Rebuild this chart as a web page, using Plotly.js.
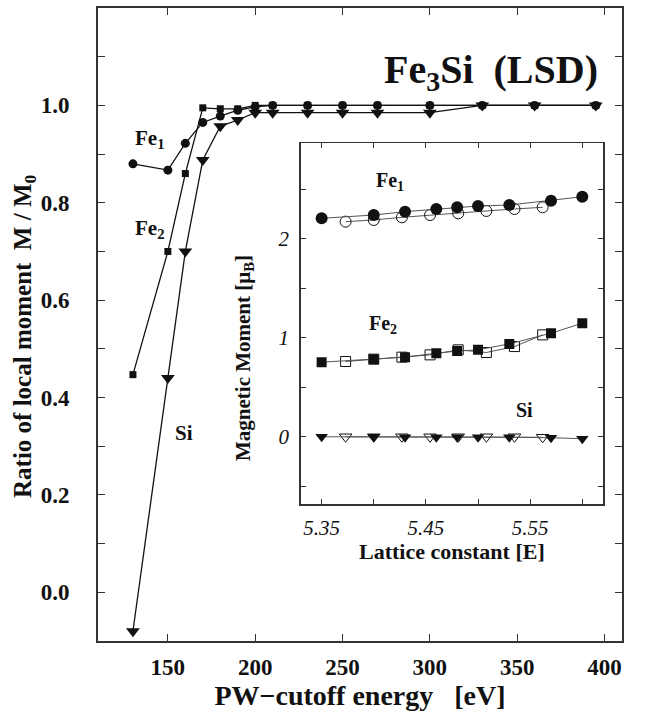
<!DOCTYPE html>
<html>
<head>
<meta charset="utf-8">
<script src="https://cdn.plot.ly/plotly-3.0.1.min.js"></script>
<style>html,body{margin:0;padding:0;background:#fff;}#chart{width:646px;height:717px;}</style>
</head>
<body>
<div id="chart"></div>
<script>
// Main plot: ratio of local moment vs PW cutoff energy
var cutoff = [130, 150, 160, 170, 180, 190, 200, 210, 230, 250, 270, 300, 330, 360, 395];
var ratioFe1 = [0.88, 0.867, 0.922, 0.965, 0.978, 0.99, 0.997, 1.0, 1.0, 1.0, 1.0, 1.0, 1.0, 1.0, 1.0];
var ratioFe2 = [0.447, 0.70, 0.86, 0.995, 0.993, 0.993, 1.0, 1.0, 1.0, 1.0, 1.0, 1.0, 1.0, 1.0, 1.0];
var ratioSi = [-0.08, 0.44, 0.70, 0.888, 0.957, 0.97, 0.985, 0.985, 0.985, 0.985, 0.985, 0.985, 1.0, 1.0, 1.0];

// Inset: magnetic moment vs lattice constant
var latFilled = [5.35, 5.40, 5.43, 5.46, 5.48, 5.50, 5.53, 5.57, 5.60];
var latOpen = [5.373, 5.400, 5.427, 5.454, 5.481, 5.508, 5.535, 5.562];
var momFe1Filled = [2.209, 2.242, 2.276, 2.303, 2.320, 2.333, 2.343, 2.387, 2.427];
var momFe1Open = [2.175, 2.192, 2.219, 2.242, 2.259, 2.283, 2.303, 2.320];
var momFe2Filled = [0.754, 0.785, 0.805, 0.845, 0.866, 0.879, 0.939, 1.047, 1.148];
var momFe2Open = [0.761, 0.785, 0.805, 0.828, 0.879, 0.852, 0.912, 1.03];
var momSiFilled = [0.0, 0.0, -0.005, -0.005, -0.005, -0.005, -0.005, -0.01, -0.02];
var momSiOpen = [0.0, 0.0, 0.0, 0.0, 0.0, 0.0, 0.0, -0.005];

// Tick labels
var latTickVals = [5.35, 5.45, 5.55];
var latTickText = ['5.35', '5.45', '5.55'];
var momTickVals = [0, 1, 2];
var momTickText = ['0', '1', '2'];

var SERIF = '"Liberation Serif", "DejaVu Serif", serif';
var INK = '#111';
var AX = '#333';

function mainTrace(y, sym, size) {
  return {x: cutoff, y: y, xaxis: 'x', yaxis: 'y', mode: 'lines+markers', type: 'scatter',
    line: {color: INK, width: 1.3},
    marker: {symbol: sym, size: size, color: INK}, showlegend: false, hoverinfo: 'skip'};
}
function insetTrace(x, y, sym, size, open) {
  return {x: x, y: y, xaxis: 'x2', yaxis: 'y2', mode: 'lines+markers', type: 'scatter',
    line: {color: '#555', width: 1},
    marker: {symbol: open ? sym + '-open' : sym, size: size, color: INK,
      line: {color: INK, width: open ? 1 : 0}}, showlegend: false, hoverinfo: 'skip'};
}

var data = [
  mainTrace(ratioSi, 'triangle-down', 12),
  mainTrace(ratioFe2, 'square', 7),
  mainTrace(ratioFe1, 'circle', 9),
  insetTrace(latOpen, momFe1Open, 'circle', 11, true),
  insetTrace(latFilled, momFe1Filled, 'circle', 12, false),
  insetTrace(latOpen, momFe2Open, 'square', 10, true),
  insetTrace(latFilled, momFe2Filled, 'square', 10, false),
  insetTrace(latOpen, momSiOpen, 'triangle-down', 11, true),
  insetTrace(latFilled, momSiFilled, 'triangle-down', 11, false)
];

var axMainCommon = {showline: true, linecolor: AX, linewidth: 2, mirror: 'ticks', ticks: 'inside',
  ticklen: 7, tickwidth: 1, tickcolor: AX, showgrid: false, zeroline: false,
  tickfont: {family: SERIF, size: 23, color: INK, weight: 'bold'}};
var axInsetCommon = {showline: true, linecolor: AX, linewidth: 1.5, mirror: 'ticks', ticks: 'inside',
  ticklen: 5, tickwidth: 1, tickcolor: AX, showgrid: false, zeroline: false,
  tickfont: {family: SERIF, size: 21, color: INK, style: 'italic'}};

var layout = {
  width: 646, height: 717,
  margin: {l: 98, r: 24, t: 8, b: 76},
  paper_bgcolor: '#fff', plot_bgcolor: '#fff',
  xaxis: Object.assign({}, axMainCommon, {domain: [0, 1], range: [110, 410], tick0: 150, dtick: 50,
    anchor: 'y', ticklabelstandoff: 4,
    title: {text: 'PW\u2212cutoff energy   [eV]', font: {family: SERIF, size: 28, color: INK, weight: 'bold'}, standoff: 4}}),
  yaxis: Object.assign({}, axMainCommon, {domain: [0, 1], range: [-0.1, 1.2], tick0: 0, dtick: 0.2,
    tickformat: '.1f', anchor: 'x', ticklabelstandoff: 22,
    minor: {dtick: 0.1, tick0: 0, ticks: 'inside', ticklen: 7, tickcolor: AX, tickwidth: 1, showgrid: false}}),
  xaxis2: Object.assign({}, axInsetCommon, {domain: [0.387, 0.964], range: [5.33, 5.62], anchor: 'y2',
    tickmode: 'array', tickvals: latTickVals, ticktext: latTickText.map(function (t) { return '<i>' + t + '</i>'; }),
    ticklabelstandoff: 4,
    minor: {dtick: 0.05, tick0: 5.35, ticks: 'inside', ticklen: 5, tickcolor: AX, tickwidth: 1, showgrid: false}}),
  yaxis2: Object.assign({}, axInsetCommon, {domain: [0.2164, 0.7867], range: [-0.68, 2.97], anchor: 'x2',
    tickmode: 'array', tickvals: momTickVals, ticktext: momTickText.map(function (t) { return '<i>' + t + '</i>'; }),
    ticklabelstandoff: 6,
    minor: {dtick: 0.5, tick0: 0, ticks: 'inside', ticklen: 5, tickcolor: AX, tickwidth: 1, showgrid: false}}),
  annotations: [
    {xref: 'paper', yref: 'paper', x: 0.958, y: 0.899, xanchor: 'right', yanchor: 'middle',
      text: 'Fe<sub>3</sub>Si  (LSD)', showarrow: false, font: {family: SERIF, size: 40, color: INK, weight: 'bold'}},
    {xref: 'paper', yref: 'paper', x: (25 - 98) / 524, y: (641 - 336) / 633, xanchor: 'center', yanchor: 'middle',
      textangle: -90, text: 'Ratio of local moment  M / M<sub>0</sub>', showarrow: false,
      font: {family: SERIF, size: 25, color: INK, weight: 'bold'}},
    {xref: 'x', yref: 'y', x: 140, y: 0.93, text: 'Fe<sub>1</sub>', showarrow: false,
      font: {family: SERIF, size: 21, color: INK, weight: 'bold'}},
    {xref: 'x', yref: 'y', x: 140, y: 0.747, text: 'Fe<sub>2</sub>', showarrow: false,
      font: {family: SERIF, size: 21, color: INK, weight: 'bold'}},
    {xref: 'x', yref: 'y', x: 159, y: 0.327, text: 'Si', showarrow: false,
      font: {family: SERIF, size: 21, color: INK, weight: 'bold'}},
    {xref: 'x2', yref: 'y2', x: 5.416, y: 2.58, text: 'Fe<sub>1</sub>', showarrow: false,
      font: {family: SERIF, size: 20, color: INK, weight: 'bold'}},
    {xref: 'x2', yref: 'y2', x: 5.409, y: 1.13, text: 'Fe<sub>2</sub>', showarrow: false,
      font: {family: SERIF, size: 20, color: INK, weight: 'bold'}},
    {xref: 'x2', yref: 'y2', x: 5.545, y: 0.27, text: 'Si', showarrow: false,
      font: {family: SERIF, size: 20, color: INK, weight: 'bold'}},
    {xref: 'x2 domain', yref: 'paper', x: 0.5, y: (641 - 551) / 633, xanchor: 'center', yanchor: 'middle',
      text: 'Lattice constant [E]', showarrow: false,
      font: {family: SERIF, size: 22, color: INK, weight: 'bold'}},
    {xref: 'paper', yref: 'paper', x: (244 - 98) / 524, y: (641 - 358) / 633, xanchor: 'center', yanchor: 'middle',
      textangle: -90, text: 'Magnetic Moment [\u03bc<sub>B</sub>]', showarrow: false,
      font: {family: SERIF, size: 21, color: INK, weight: 'bold'}}
  ]
};

Plotly.newPlot('chart', data, layout, {staticPlot: true, displayModeBar: false});
</script>
</body>
</html>
